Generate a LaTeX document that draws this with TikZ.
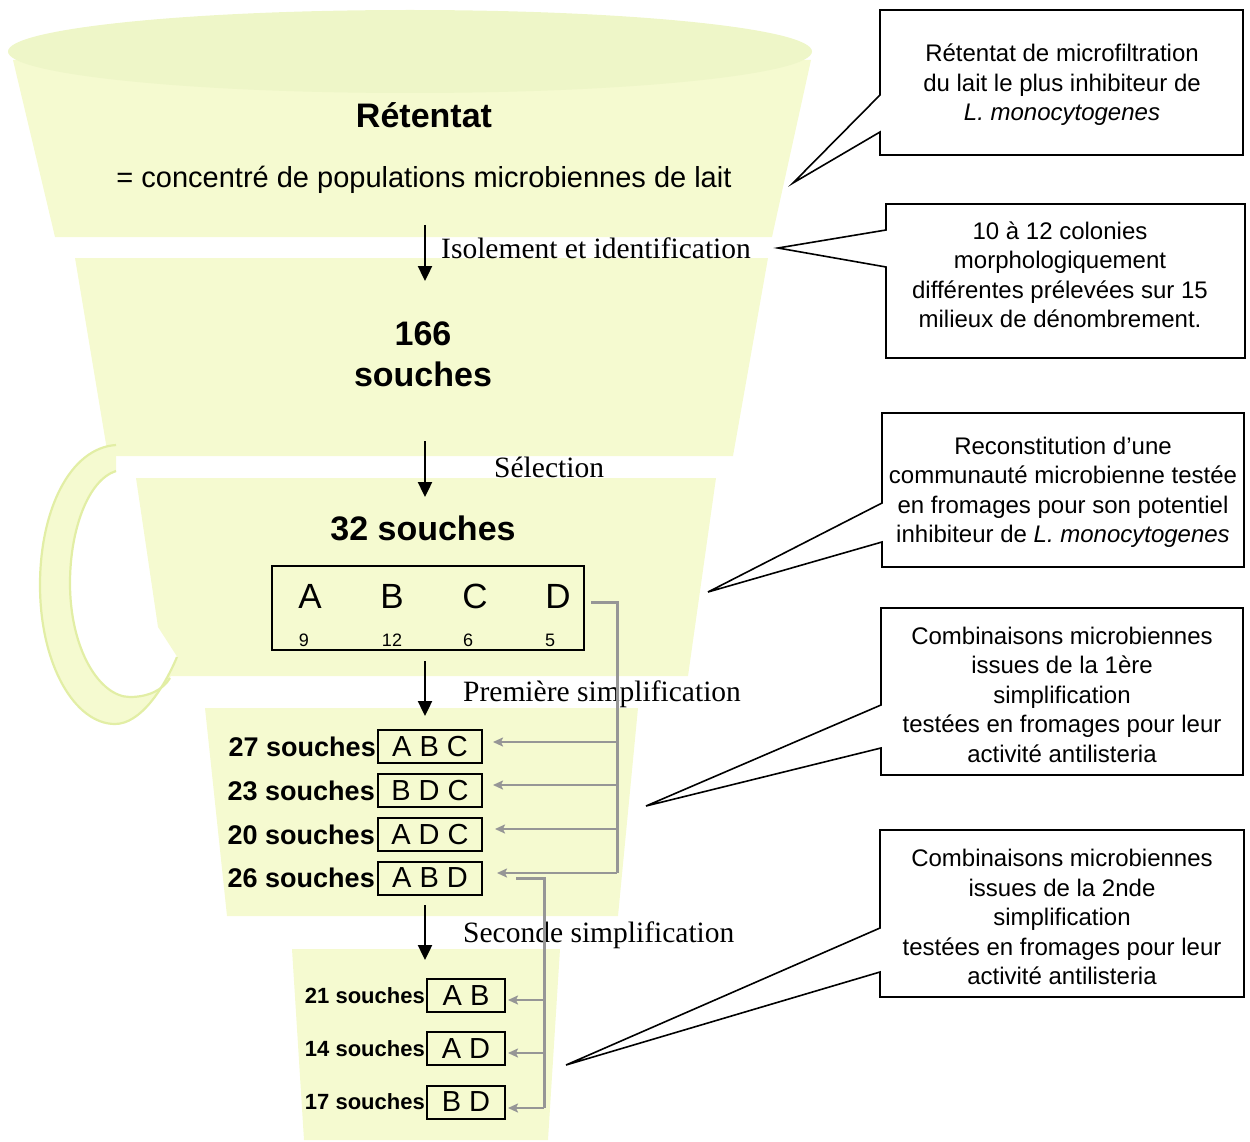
\documentclass[tikz,border=0pt]{standalone}
\usepackage{fontspec}
\setmainfont{Liberation Serif}
\newfontfamily\arial{Liberation Sans}
\usetikzlibrary{arrows.meta,calc}
\definecolor{funnel}{RGB}{245,250,208}
\definecolor{funneltop}{RGB}{238,246,200}
\definecolor{handleline}{RGB}{226,238,165}
\definecolor{busgray}{RGB}{150,150,150}
\tikzset{
 seg/.style={fill=funnel, draw=none},
 mainarrow/.style={line width=2.4pt, -{Triangle[length=15pt,width=14pt]}},
 busline/.style={busgray, line width=3pt},
 busarrow/.style={busgray, line width=2.6pt, -{Stealth[length=10pt,width=9pt,inset=2pt]}},
 callout/.style={draw=black, line width=1.6pt, fill=white, line join=miter},
 calltext/.style={font=\arial\fontsize{24}{29.5}\selectfont, align=center, inner sep=0},
 steplabel/.style={font=\fontsize{29.5}{34}\selectfont, anchor=west, inner sep=0},
 bigtext/.style={font=\arial\bfseries\fontsize{34}{41}\selectfont, align=center, inner sep=0},
 rowbox/.style={draw, line width=2pt, minimum height=33pt, inner sep=0, font=\arial\fontsize{29}{33}\selectfont},
 rowlabel/.style={font=\arial\bfseries\fontsize{27}{30}\selectfont, anchor=east, inner sep=0},
 smalllabel/.style={font=\arial\bfseries\fontsize{22}{26}\selectfont, anchor=east, inner sep=0},
 letter/.style={font=\arial\fontsize{35}{40}\selectfont, inner sep=0},
 count/.style={font=\arial\fontsize{18}{20}\selectfont, inner sep=0},
 handlestroke/.style={draw=handleline, line width=2.2pt},
}
\begin{document}
\begin{tikzpicture}[x=1pt,y=-1pt]
\useasboundingbox (0,0) rectangle (1250,1142);

% funnel segments
\fill[seg] (13,60) -- (811,60) -- (772,237) -- (55,237) -- cycle;
\fill[funneltop] (410,51.5) ellipse [x radius=402, y radius=41.5];
\fill[seg] (75,258) -- (768,258) -- (733,456) -- (108,456) -- cycle;
\fill[seg] (136,478) -- (716,478) -- (688,676) -- (168,676) -- (178,658) -- (158,627) -- cycle;
\fill[seg] (205,708) -- (638,708) -- (618,916) -- (227,916) -- cycle;
\fill[seg] (292,949) -- (560,949) -- (548,1140) -- (304,1140) -- cycle;

% handle
\fill[funnel]
  (116,445) .. controls (70,448) and (40,510) .. (40,585)
  .. controls (40,665) and (75,724) .. (115,724)
  .. controls (140,724) and (163,690) .. (177,657)
  -- (170,678)
  .. controls (163,690) and (148,697) .. (130,697)
  .. controls (100,697) and (70,650) .. (70,583)
  .. controls (70,530) and (88,480) .. (116,471) -- cycle;
\draw[handlestroke] (116,445) .. controls (70,448) and (40,510) .. (40,585)
  .. controls (40,665) and (75,724) .. (115,724)
  .. controls (140,724) and (163,690) .. (177,657);
\draw[handlestroke] (116,471) .. controls (88,480) and (70,530) .. (70,583)
  .. controls (70,650) and (100,697) .. (130,697)
  .. controls (148,697) and (163,690) .. (170,678);

% texts in funnel
\node[bigtext] (retentat) at (424,115) {Rétentat};
\node[font=\arial\fontsize{29}{34}\selectfont, inner sep=0] (concentre) at (424,180) {= concentré de populations microbiennes de lait};
\node[bigtext] (n166) at (423,354) {166\\souches};
\node[bigtext] (n32) at (423,528) {32 souches};

% ABCD box
\node[draw, line width=2pt, minimum width=312pt, minimum height=84pt, inner sep=0] (abcd) at (428,608) {};
\node[letter] (lA) at (310,596) {A};
\node[letter] (lB) at (392,596) {B};
\node[letter] (lC) at (475,596) {C};
\node[letter] (lD) at (558,596) {D};
\node[count] (cA) at (304,640) {9};
\node[count] (cB) at (392,640) {12};
\node[count] (cC) at (468,640) {6};
\node[count] (cD) at (550,640) {5};

% first simplification rows
\node[rowbox, minimum width=104pt] (r1) at (430,746.5) {A B C};
\node[rowbox, minimum width=104pt] (r2) at (430,790.5) {B D C};
\node[rowbox, minimum width=104pt] (r3) at (430,834.5) {A D C};
\node[rowbox, minimum width=104pt] (r4) at (430,878) {A B D};
\node[rowlabel] (l1) at ($(r1.west)+(-1,0)$) {27 souches};
\node[rowlabel] (l2) at ($(r2.west)+(-2,0)$) {23 souches};
\node[rowlabel] (l3) at ($(r3.west)+(-2,0)$) {20 souches};
\node[rowlabel] (l4) at ($(r4.west)+(-2,0)$) {26 souches};

% second simplification rows
\node[rowbox, minimum width=78pt] (s1) at (466,995.5) {A B};
\node[rowbox, minimum width=78pt] (s2) at (466,1048.5) {A D};
\node[rowbox, minimum width=78pt] (s3) at (466,1102) {B D};
\node[smalllabel] (m1) at ($(s1.west)+(-1,0)$) {21 souches};
\node[smalllabel] (m2) at ($(s2.west)+(-1,0)$) {14 souches};
\node[smalllabel] (m3) at ($(s3.west)+(-1,0)$) {17 souches};

% step labels
\node[steplabel] (isol) at (441,248) {Isolement et identification};
\node[steplabel] (selec) at (494,467) {Sélection};
\node[steplabel] (prem) at (463,694) {Première simplification};
\node[steplabel] (sec) at (463,935) {Seconde simplification};

% main arrows
\coordinate (a1s) at (425,225); \coordinate (a1e) at (425,281);
\coordinate (a2s) at (425,441); \coordinate (a2e) at (425,497);
\coordinate (a3s) at (425,661); \coordinate (a3e) at (425,716);
\coordinate (a4s) at (425,905); \coordinate (a4e) at (425,960);
\draw[mainarrow] (a1s) -- (a1e);
\draw[mainarrow] (a2s) -- (a2e);
\draw[mainarrow] (a3s) -- (a3e);
\draw[mainarrow] (a4s) -- (a4e);

% bus 1
\coordinate (d0) at ($(abcd.east)+(6,-6)$);
\coordinate (bj) at (617,602);
\coordinate (b1) at (617,742);
\coordinate (b2) at (617,785);
\coordinate (b3) at (617,829);
\coordinate (b4) at (617,873);
\draw[busline] (d0) -- (bj) -- (b4);
\draw[busarrow] (b1) -- ($(b1 -| r1.east)+(10,0)$);
\draw[busarrow] (b2) -- ($(b2 -| r2.east)+(10,0)$);
\draw[busarrow] (b3) -- ($(b3 -| r3.east)+(12,0)$);
\draw[busarrow] (b4) -- ($(b4 -| r4.east)+(14,0)$);

% bus 2
\coordinate (c0) at (516,878);
\coordinate (cj) at (544,878);
\coordinate (c1) at (544,1000);
\coordinate (c2) at (544,1053);
\coordinate (c3) at (544,1108);
\draw[busline] (c0) -- (cj) -- (c3);
\draw[busarrow] (c1) -- ($(c1 -| s1.east)+(2,0)$);
\draw[busarrow] (c2) -- ($(c2 -| s2.east)+(2,0)$);
\draw[busarrow] (c3) -- ($(c3 -| s3.east)+(2,0)$);

% callouts
\draw[callout] (880,10) -- (1243,10) -- (1243,155) -- (880,155) -- (880,132) -- (793,183) -- (880,95) -- cycle;
\node[calltext] (t1) at (1062,85) {Rétentat de microfiltration\\du lait le plus inhibiteur de\\\textit{L. monocytogenes}};

\draw[callout] (886,204) -- (1245,204) -- (1245,358) -- (886,358) -- (886,267) -- (778,248) -- (886,230) -- cycle;
\node[calltext] (t2) at (1060,275) {10 à 12 colonies\\morphologiquement\\différentes prélevées sur 15\\milieux de dénombrement.};

\draw[callout] (882,413) -- (1244,413) -- (1244,567) -- (882,567) -- (882,542) -- (708,592) -- (882,503) -- cycle;
\node[calltext] (t3) at (1063,492.5) {Reconstitution d’une\\communauté microbienne testée\\en fromages pour son potentiel\\inhibiteur de \textit{L. monocytogenes}};

\draw[callout] (881,608) -- (1243,608) -- (1243,775) -- (881,775) -- (881,748) -- (646,806) -- (881,705) -- cycle;
\node[calltext] (t4) at (1062,694.5) {Combinaisons microbiennes\\issues de la 1ère\\simplification\\testées en fromages pour leur\\activité antilisteria};

\draw[callout] (880,830) -- (1244,830) -- (1244,997) -- (880,997) -- (880,972) -- (566,1065) -- (880,928) -- cycle;
\node[calltext] (t5) at (1062,917) {Combinaisons microbiennes\\issues de la 2nde\\simplification\\testées en fromages pour leur\\activité antilisteria};
\end{tikzpicture}
\end{document}
